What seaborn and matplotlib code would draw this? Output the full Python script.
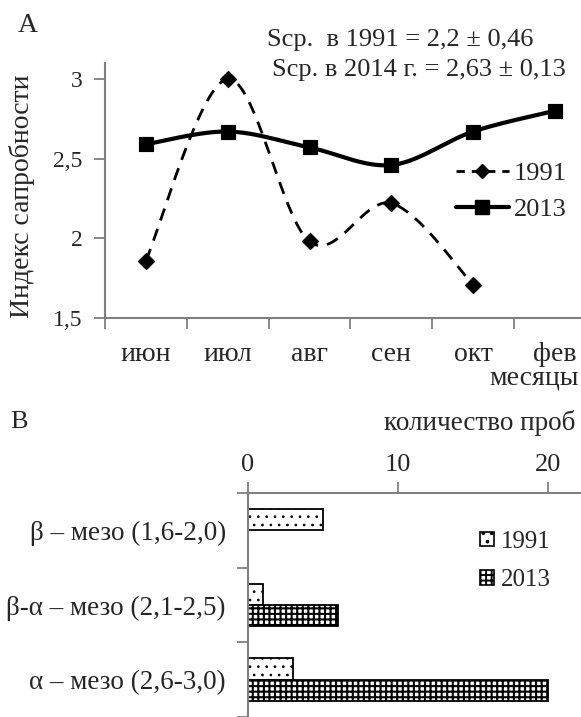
import numpy as np
import pandas as pd
import seaborn as sns
import matplotlib.pyplot as plt
from matplotlib.lines import Line2D
from matplotlib.patches import Patch

# data
months = ["июн", "июл", "авг", "сен", "окт", "фев"]
index_1991 = [1.86, 3.00, 1.98, 2.22, 1.71]
index_2013 = [2.59, 2.67, 2.57, 2.46, 2.67, 2.80]

zones = ["β – мезо (1,6-2,0)", "β-α – мезо (2,1-2,5)", "α – мезо (2,6-3,0)"]
samples_1991 = [5, 1, 3]
samples_2013 = [0, 6, 20]

sns.set_theme(style="white")
plt.rcParams["font.family"] = ["Liberation Serif", "DejaVu Serif"]
plt.rcParams["hatch.linewidth"] = 1.4

W, H = 581, 717
fig = plt.figure(figsize=(W / 100, H / 100), dpi=100)
gray = "#808080"


def fx(px):
    return px / W


def fy(py):
    return 1 - py / H


# smooth line like excel (catmull-rom)
def smooth(xs, ys, n=40):
    pts = np.column_stack([xs, ys]).astype(float)
    p = np.vstack([pts[0], pts, pts[-1]])
    segs = []
    t = np.linspace(0, 1, n)[:, None]
    for i in range(1, len(p) - 2):
        p0, p1, p2, p3 = p[i - 1], p[i], p[i + 1], p[i + 2]
        seg = 0.5 * (2 * p1 + (-p0 + p2) * t + (2 * p0 - 5 * p1 + 4 * p2 - p3) * t ** 2
                     + (-p0 + 3 * p1 - 3 * p2 + p3) * t ** 3)
        segs.append(seg)
    return np.vstack(segs)


def hatch_lw(patch, lw):
    if hasattr(patch, "set_hatch_linewidth"):
        patch.set_hatch_linewidth(lw)


# ---- chart A ----
axA = fig.add_axes([fx(105), fy(318), fx(581 - 105), (318 - 63) / H])
x91 = np.arange(len(index_1991))
x13 = np.arange(len(index_2013))
c91 = smooth(x91, index_1991)
c13 = smooth(x13, index_2013)
sns.lineplot(x=c91[:, 0], y=c91[:, 1], ax=axA, sort=False, estimator=None,
             color="black", lw=2.0, linestyle=(0, (4.5, 3.2)))
sns.lineplot(x=c13[:, 0], y=c13[:, 1], ax=axA, sort=False, estimator=None,
             color="black", lw=3.0)
sns.scatterplot(x=x91, y=index_1991, ax=axA, marker="D", s=70, color="black",
                edgecolor="black", zorder=5)
sns.scatterplot(x=x13, y=index_2013, ax=axA, marker="s", s=110, color="black",
                edgecolor="black", zorder=5)

axA.set_xlim(-0.5, -0.5 + 476 / 81.8)
axA.set_ylim(1.5, 3.1)
axA.set_yticks([1.5, 2, 2.5, 3])
axA.set_yticklabels(["1,5", "2", "2,5", "3"], fontsize=17)
axA.set_xticks(np.arange(len(months)))
axA.set_xticklabels(months, fontsize=20)
axA.set_xticks(np.arange(len(months)) - 0.5, minor=True)
axA.tick_params(axis="x", which="major", length=0, pad=17)
axA.tick_params(axis="x", which="minor", length=8, width=1.3, color=gray, direction="out", bottom=True)
axA.tick_params(axis="y", length=8, width=1.3, color=gray, direction="out", left=True, pad=8)
for s in ["top", "right"]:
    axA.spines[s].set_visible(False)
for s in ["left", "bottom"]:
    axA.spines[s].set_color(gray)
    axA.spines[s].set_linewidth(1.5)
axA.set_ylabel("")
axA.set_xlabel("")

handlesA = [
    Line2D([], [], color="black", lw=2.0, linestyle=(0, (3, 2.5)), marker="D", markersize=7),
    Line2D([], [], color="black", lw=3.0, marker="s", markersize=10),
]
fig.legend(handlesA, ["1991", "2013"], loc="upper left", bbox_to_anchor=(fx(456), fy(162)),
           frameon=False, fontsize=19, handlelength=2.0, handletextpad=0.2,
           labelspacing=0.45, borderpad=0, borderaxespad=0)

fig.text(fx(22), fy(196), "Индекс сапробности", rotation=90, fontsize=20,
         ha="center", va="center")
fig.text(fx(579), fy(378), "месяцы", fontsize=20, ha="right", va="center")
fig.text(fx(18), fy(26), "A", fontsize=20, ha="left", va="center")
fig.text(fx(267), fy(40), "Scр.  в 1991 = 2,2 ± 0,46", fontsize=19, ha="left", va="center")
fig.text(fx(272), fy(70), "Scр. в 2014 г. = 2,63 ± 0,13", fontsize=19, ha="left", va="center")

# ---- chart B ----
axB = fig.add_axes([fx(248), 0, fx(581 - 248), (717 - 493) / H])
df = pd.DataFrame({
    "zone": zones * 2,
    "count": samples_1991 + samples_2013,
    "year": ["1991"] * len(zones) + ["2013"] * len(zones),
})
sns.barplot(data=df, x="count", y="zone", hue="year", orient="h", ax=axB,
            palette=["white", "white"], edgecolor="black", linewidth=1.3,
            width=0.57, legend=False)
hatches = {"1991": "..", "2013": "+++"}
hlw = {"1991": 0.7, "2013": 1.5}
for cont, yr in zip(axB.containers, ["1991", "2013"]):
    for bar in cont:
        bar.set_hatch(hatches[yr])
        hatch_lw(bar, hlw[yr])
        if bar.get_width() == 0:
            bar.set_visible(False)

axB.set_xlim(0, (581 - 248) / 15)
axB.set_ylim(2.41, -0.5)
axB.set_xticks([0, 10, 20])
axB.set_xticklabels(["0", "10", "20"], fontsize=19)
axB.xaxis.tick_top()
axB.tick_params(axis="x", length=8, width=1.3, color=gray, direction="out", top=True, pad=4)
axB.set_yticks(np.arange(len(zones)))
axB.set_yticklabels(zones, fontsize=19.5)
axB.set_yticks(np.arange(len(zones) + 1) - 0.5, minor=True)
axB.tick_params(axis="y", which="major", length=0, pad=16)
axB.tick_params(axis="y", which="minor", length=8, width=1.3, color=gray, direction="out", left=True)
for s in ["bottom", "right"]:
    axB.spines[s].set_visible(False)
for s in ["left", "top"]:
    axB.spines[s].set_color(gray)
    axB.spines[s].set_linewidth(1.5)
axB.set_xlabel("")
axB.set_ylabel("")

handlesB = []
for y in ["1991", "2013"]:
    p = Patch(facecolor="white", edgecolor="black", hatch=hatches[y], lw=1.2)
    hatch_lw(p, hlw[y])
    handlesB.append(p)
fig.legend(handlesB, ["1991", "2013"], loc="upper left", bbox_to_anchor=(fx(480), fy(531)),
           frameon=False, fontsize=18, handlelength=0.55, handleheight=0.5,
           handletextpad=0.3, labelspacing=0.65, borderpad=0, borderaxespad=0)

fig.text(fx(10), fy(422), "B", fontsize=19, ha="left", va="center")
fig.text(fx(575), fy(423), "количество проб", fontsize=19.5, ha="right", va="center")

fig.savefig("out.png", dpi=100)
